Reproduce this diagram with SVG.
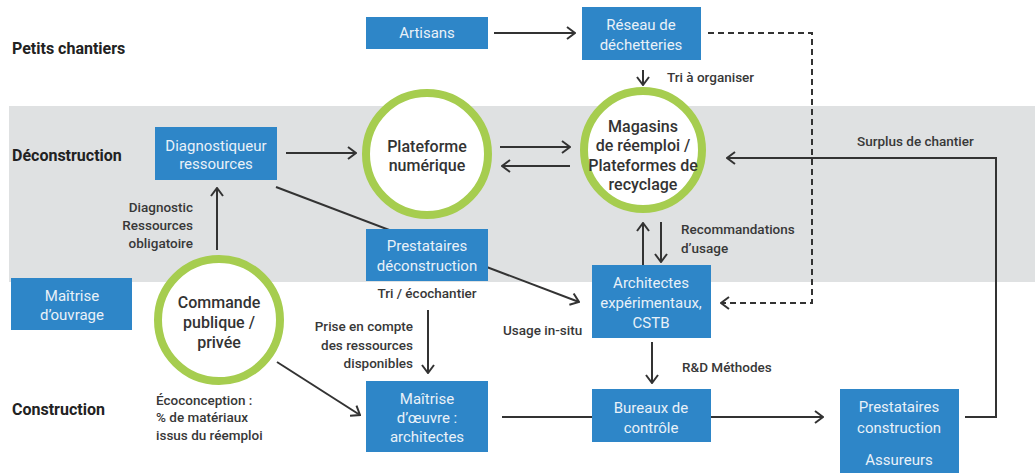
<svg xmlns="http://www.w3.org/2000/svg" width="1035" height="473" viewBox="0 0 1035 473">
<style>
.box{fill:#2e86c8}
.bt{font-family:Roboto,"Liberation Sans",sans-serif;font-size:15px;fill:#e9f1f8;text-anchor:middle}
.ct{font-family:Roboto,"Liberation Sans",sans-serif;font-size:16px;font-weight:500;fill:#333;text-anchor:middle}
.circ{fill:#fff;stroke:#a6cd4f;stroke-width:8}
.lb{font-family:Roboto,"Liberation Sans",sans-serif;font-size:13.5px;font-weight:500;fill:#383838}
.sec{font-family:Roboto,"Liberation Sans",sans-serif;font-size:16px;font-weight:700;fill:#222}
.ln{fill:none;stroke:#333;stroke-width:2}
.dash{fill:none;stroke:#333;stroke-width:2;stroke-dasharray:6,4}
</style>
<defs>
<marker id="ah" markerUnits="userSpaceOnUse" viewBox="0 0 10 14" markerWidth="10" markerHeight="14" refX="9" refY="7" orient="auto">
<path d="M1,1 L9,7 L1,13" fill="none" stroke="#333" stroke-width="2"/>
</marker>
</defs>
<rect x="9" y="106" width="1026" height="176" fill="#dfe1e2"/>
<text class="sec" x="12" y="54">Petits chantiers</text>
<text class="sec" x="12" y="161">Déconstruction</text>
<text class="sec" x="12" y="415">Construction</text>
<g id="connectors">
<line class="ln" x1="494" y1="33" x2="575" y2="33" marker-end="url(#ah)"/>
<polyline class="dash" points="708,33 812,33 812,303 721,303" marker-end="url(#ah)"/>
<line class="ln" x1="643" y1="70" x2="643" y2="85" marker-end="url(#ah)"/>
<line class="ln" x1="286" y1="153" x2="356" y2="153" marker-end="url(#ah)"/>
<line class="ln" x1="500" y1="147" x2="570" y2="147" marker-end="url(#ah)"/>
<line class="ln" x1="570" y1="166" x2="502" y2="166" marker-end="url(#ah)"/>
<line class="ln" x1="276" y1="187" x2="579" y2="302" marker-end="url(#ah)"/>
<line class="ln" x1="217" y1="250" x2="217" y2="188" marker-end="url(#ah)"/>
<line class="ln" x1="277" y1="362" x2="360" y2="415" marker-end="url(#ah)"/>
<line class="ln" x1="428" y1="310" x2="428" y2="373" marker-end="url(#ah)"/>
<line class="ln" x1="502" y1="417" x2="592" y2="417"/>
<line class="ln" x1="711" y1="417" x2="823" y2="417" marker-end="url(#ah)"/>
<line class="ln" x1="652" y1="342" x2="652" y2="383" marker-end="url(#ah)"/>
<polyline class="ln" points="965,417 996,417 996,158 727,158" marker-end="url(#ah)"/>
<line class="ln" x1="643" y1="265" x2="643" y2="223" marker-end="url(#ah)"/>
<line class="ln" x1="661" y1="222" x2="661" y2="262" marker-end="url(#ah)"/>
</g>
<g id="labels">
<text class="lb" x="667" y="82">Tri à organiser</text>
<text class="lb" x="193" y="212" text-anchor="end">Diagnostic</text>
<text class="lb" x="193" y="230" text-anchor="end">Ressources</text>
<text class="lb" x="193" y="248" text-anchor="end">obligatoire</text>
<text class="lb" x="427" y="298" text-anchor="middle">Tri / écochantier</text>
<text class="lb" x="413" y="331" text-anchor="end">Prise en compte</text>
<text class="lb" x="413" y="350" text-anchor="end">des ressources</text>
<text class="lb" x="413" y="368" text-anchor="end">disponibles</text>
<text class="lb" x="156" y="405">Écoconception :</text>
<text class="lb" x="156" y="422">% de matériaux</text>
<text class="lb" x="156" y="440">issus du réemploi</text>
<text class="lb" x="503" y="335">Usage in-situ</text>
<text class="lb" x="682" y="372">R&amp;D Méthodes</text>
<text class="lb" x="857" y="146">Surplus de chantier</text>
<text class="lb" x="681" y="234">Recommandations</text>
<text class="lb" x="681" y="253">d’usage</text>
</g>
<g id="artisans"><rect class="box" x="366" y="17" width="122" height="32"/><text class="bt" x="427" y="38">Artisans</text></g>
<g id="reseau"><rect class="box" x="582" y="7" width="119" height="53"/><text class="bt" x="641" y="30">Réseau de</text><text class="bt" x="641" y="50">déchetteries</text></g>
<g id="diagnostiqueur"><rect class="box" x="155" y="127" width="122" height="53"/><text class="bt" x="216" y="151">Diagnostiqueur</text><text class="bt" x="216" y="169">ressources</text></g>
<g id="prestataires-deconstruction"><rect class="box" x="366" y="229" width="122" height="52"/><text class="bt" x="427" y="251">Prestataires</text><text class="bt" x="427" y="271">déconstruction</text></g>
<g id="maitrise-ouvrage"><rect class="box" x="11" y="278" width="121" height="52"/><text class="bt" x="72" y="301">Maîtrise</text><text class="bt" x="72" y="320">d’ouvrage</text></g>
<g id="maitrise-oeuvre"><rect class="box" x="366" y="381" width="122" height="71"/><text class="bt" x="427" y="404">Maîtrise</text><text class="bt" x="427" y="423">d’œuvre :</text><text class="bt" x="427" y="442">architectes</text></g>
<g id="architectes-exp"><rect class="box" x="592" y="265" width="119" height="73"/><text class="bt" x="651" y="288">Architectes</text><text class="bt" x="651" y="308">expérimentaux,</text><text class="bt" x="651" y="328">CSTB</text></g>
<g id="bureaux"><rect class="box" x="592" y="389" width="119" height="53"/><text class="bt" x="651" y="413">Bureaux de</text><text class="bt" x="651" y="433">contrôle</text></g>
<g id="prestataires-construction"><rect class="box" x="840" y="389" width="119" height="90"/><text class="bt" x="899" y="412">Prestataires</text><text class="bt" x="899" y="433">construction</text><text class="bt" x="899" y="465">Assureurs</text></g>
<g id="plateforme"><circle class="circ" cx="427" cy="154" r="61"/><text class="ct" x="427" y="152">Plateforme</text><text class="ct" x="427" y="171">numérique</text></g>
<g id="magasins"><circle class="circ" cx="643" cy="150" r="59"/><text class="ct" x="643" y="132">Magasins</text><text class="ct" x="643" y="151">de réemploi /</text><text class="ct" x="643" y="171">Plateformes de</text><text class="ct" x="643" y="190">recyclage</text></g>
<g id="commande"><circle class="circ" cx="219" cy="320" r="61"/><text class="ct" x="219" y="308">Commande</text><text class="ct" x="219" y="328">publique /</text><text class="ct" x="219" y="348">privée</text></g>
</svg>
